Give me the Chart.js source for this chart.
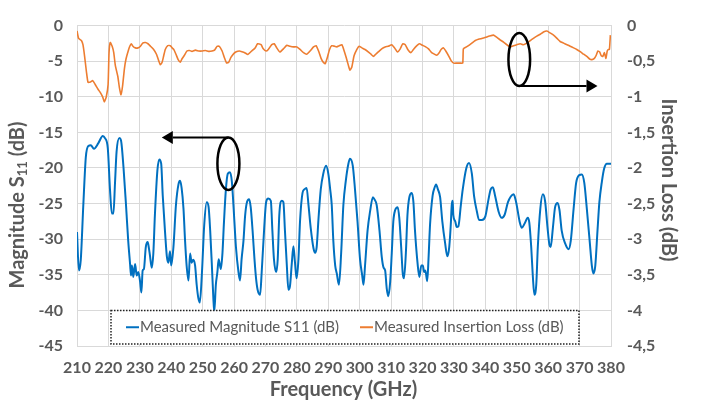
<!DOCTYPE html>
<html>
<head>
<meta charset="utf-8">
<script src="https://cdn.jsdelivr.net/npm/chart.js@4.4.1/dist/chart.umd.min.js"></script>
<style>
  html, body { margin: 0; padding: 0; background: #fff; }
  #wrap { width: 704px; height: 409px; }
</style>
</head>
<body>
<div id="wrap"><canvas id="chart" width="704" height="409"></canvas></div>
<script>
// Measured S11 magnitude (dB) vs frequency (GHz)
const s11Freq = [
  210.0, 210.6, 211.2, 212.0, 212.8, 213.6, 214.4, 215.4, 216.8, 218.2, 218.9, 219.8,
  220.5, 221.1, 221.6, 222.1, 222.6, 223.5, 224.0, 224.8, 225.6, 226.3, 226.9, 227.2,
  227.5, 227.9, 228.5, 229.0, 229.5, 230.1, 230.5, 230.9, 231.3, 231.9, 232.5, 232.9,
  233.2, 233.8, 234.3, 234.8, 235.6, 236.2, 236.8, 237.3, 238.0, 238.6, 239.1, 239.6,
  240.0, 240.7, 241.5, 242.3, 242.8, 243.3, 243.9, 244.4, 244.9, 245.5, 246.0, 246.5,
  247.0, 247.6, 248.1, 248.6, 249.1, 249.8, 250.5, 251.3, 251.9, 252.4, 252.9, 253.4,
  253.7, 254.2, 254.7, 255.1, 255.8, 256.3, 256.8, 257.4, 258.0, 258.7, 259.3, 259.8,
  260.6, 261.4, 261.9, 262.4, 263.0, 263.5, 264.0, 264.8, 265.3, 265.9, 266.5, 267.0,
  267.5, 268.3, 268.8, 269.6, 270.2, 270.9, 271.7, 272.2, 272.7, 273.4, 273.9, 274.4,
  275.2, 275.7, 276.2, 276.8, 277.3, 277.8, 278.4, 278.9, 279.4, 279.9, 280.5, 281.0,
  281.8, 282.4, 283.1, 283.7, 284.4, 285.3, 285.8, 286.3, 286.9, 287.6, 288.4, 289.3,
  290.0, 290.6, 291.1, 291.6, 292.2, 292.7, 293.4, 294.1, 294.8, 295.6, 296.4, 296.9,
  297.8, 298.5, 299.3, 300.1, 300.8, 301.2, 301.7, 302.5, 303.3, 304.2, 304.7, 305.4,
  306.3, 307.0, 307.6, 308.1, 308.6, 309.1, 309.7, 310.2, 310.7, 311.3, 312.1, 312.6,
  313.2, 313.7, 314.1, 314.7, 315.2, 315.8, 316.6, 317.1, 317.6, 318.4, 319.0, 319.6,
  320.1, 320.5, 320.9, 321.5, 321.9, 322.4, 323.2, 323.8, 324.3, 324.9, 325.6, 326.3,
  327.2, 327.9, 328.5, 329.0, 329.3, 329.6, 329.8, 330.4, 330.9, 331.4, 332.2, 332.8,
  333.9, 334.8, 335.7, 336.4, 337.3, 338.0, 338.9, 340.0, 341.0, 341.7, 342.4, 343.1,
  344.2, 345.2, 346.1, 347.2, 348.1, 349.0, 349.8, 350.9, 351.6, 352.5, 353.5, 354.0,
  354.6, 355.1, 355.6, 356.2, 356.7, 357.5, 358.3, 359.0, 359.8, 360.4, 360.8, 361.5,
  362.2, 363.0, 363.6, 364.3, 365.4, 366.5, 367.2, 368.1, 368.9, 369.9, 370.7, 371.5,
  372.3, 373.2, 373.9, 374.4, 375.0, 375.7, 376.3, 377.1, 377.8, 378.7, 379.5, 380.0
];
const s11Mag = [
  -29.0, -34.4, -32.9, -25.3, -18.5, -16.9, -16.8, -17.3, -16.5, -15.5, -15.8, -17.2,
  -23.0, -26.4, -26.4, -22.1, -17.7, -15.8, -16.1, -19.9, -25.2, -30.2, -33.5, -35.1,
  -33.7, -35.3, -33.5, -35.1, -34.6, -36.0, -37.5, -34.4, -34.2, -31.1, -30.4, -31.3,
  -32.2, -34.0, -32.0, -26.6, -20.3, -18.8, -19.4, -23.9, -28.8, -32.4, -33.3, -31.7,
  -33.7, -31.1, -25.2, -22.3, -21.8, -22.8, -25.7, -30.2, -33.7, -35.8, -32.0, -33.3,
  -32.9, -33.7, -36.4, -38.2, -38.9, -34.5, -28.0, -24.8, -25.5, -28.8, -33.3, -38.2,
  -40.2, -36.4, -34.6, -32.8, -34.2, -32.0, -27.5, -23.0, -20.8, -20.6, -21.9, -25.2,
  -31.1, -34.6, -35.8, -32.8, -30.2, -26.8, -25.0, -24.4, -25.5, -28.8, -32.8, -35.5,
  -37.1, -37.8, -34.6, -28.4, -24.8, -24.3, -24.6, -28.8, -32.8, -34.6, -32.8, -26.6,
  -24.6, -24.8, -28.8, -33.7, -37.1, -36.6, -33.3, -31.0, -33.3, -35.5, -32.8, -27.5,
  -23.5, -23.0, -22.8, -25.2, -28.4, -31.3, -31.9, -31.1, -27.0, -23.0, -20.8, -19.7,
  -20.8, -23.0, -25.2, -30.2, -33.7, -34.8, -36.4, -31.9, -25.2, -21.7, -19.4, -18.7,
  -19.7, -23.0, -27.5, -32.8, -35.1, -36.4, -33.7, -28.8, -26.1, -24.1, -24.4, -25.2,
  -28.8, -32.4, -34.0, -34.4, -36.9, -38.0, -36.0, -32.0, -27.5, -25.9, -25.5, -27.0,
  -31.1, -34.8, -35.5, -31.9, -26.6, -24.1, -23.5, -24.8, -28.8, -33.3, -35.3, -33.7,
  -33.7, -34.6, -34.4, -35.9, -32.8, -27.9, -23.9, -22.8, -22.3, -23.0, -24.1, -27.5,
  -30.6, -32.4, -31.1, -27.9, -25.2, -24.6, -26.6, -27.5, -28.3, -28.2, -25.2, -23.0,
  -20.1, -19.3, -20.8, -23.9, -26.1, -27.3, -27.3, -26.8, -24.4, -23.0, -22.7, -23.9,
  -26.1, -27.0, -26.6, -24.8, -24.0, -23.7, -24.8, -27.5, -28.4, -27.8, -27.0, -27.7,
  -31.1, -35.1, -37.8, -36.4, -31.1, -25.7, -23.7, -24.6, -28.4, -30.8, -31.1, -28.4,
  -25.5, -24.9, -25.9, -28.8, -30.6, -31.4, -30.2, -25.7, -22.1, -21.0, -20.9, -22.1,
  -25.7, -30.2, -33.7, -34.8, -33.7, -28.8, -24.8, -21.9, -20.1, -19.4, -19.4, -19.4
];

// Measured insertion loss (dB, right axis) vs frequency (GHz)
const ilFreq = [
  210.0, 210.5, 211.4, 211.9, 212.4, 213.0, 213.5, 214.3, 215.0, 215.8, 216.7, 217.4,
  218.2, 218.7, 219.3, 219.9, 220.2, 220.6, 221.2, 221.7, 222.2, 223.0, 223.5, 224.0,
  224.5, 225.1, 225.6, 226.3, 226.8, 227.3, 227.8, 228.6, 229.4, 230.2, 230.9, 231.8,
  232.6, 233.4, 234.4, 235.3, 236.0, 236.5, 237.1, 237.6, 238.1, 238.9, 239.7, 240.3,
  240.8, 241.5, 242.2, 242.9, 243.4, 244.2, 245.0, 245.8, 246.6, 247.7, 248.8, 249.8,
  250.9, 251.9, 253.0, 253.8, 254.6, 255.3, 256.2, 256.9, 257.6, 258.3, 259.0, 259.9,
  260.7, 261.7, 262.5, 263.4, 264.4, 265.6, 266.7, 267.5, 268.6, 269.3, 270.2, 270.9,
  272.0, 272.8, 273.6, 274.6, 275.7, 276.8, 277.8, 278.9, 280.0, 281.0, 282.1, 283.1,
  284.2, 285.3, 286.1, 286.9, 287.7, 288.4, 289.0, 289.7, 290.4, 291.1, 292.0, 292.7,
  293.5, 294.3, 294.9, 295.7, 296.4, 296.9, 297.5, 298.2, 299.1, 299.8, 300.7, 301.7,
  302.8, 303.6, 304.4, 305.1, 306.0, 307.0, 308.1, 309.1, 310.2, 311.1, 312.0, 312.9,
  313.7, 314.5, 315.3, 316.3, 317.1, 318.2, 319.0, 320.0, 321.0, 321.9, 322.9, 323.8,
  324.5, 325.3, 325.9, 326.7, 327.4, 328.3, 329.1, 329.9, 330.9, 332.0, 332.8, 333.0,
  333.8, 334.6, 335.7, 336.8, 337.8, 339.1, 340.1, 341.3, 342.6, 343.7, 344.7, 345.8,
  346.8, 347.9, 349.0, 350.0, 351.1, 352.1, 353.2, 354.3, 355.3, 356.4, 357.5, 358.5,
  359.6, 360.6, 361.7, 362.8, 363.8, 364.9, 366.0, 367.0, 368.1, 369.1, 370.2, 371.3,
  372.3, 373.2, 373.9, 374.7, 375.3, 375.8, 376.4, 376.9, 377.4, 377.9, 378.4, 378.8,
  379.2, 379.5, 379.8
];
const ilLoss = [
  -0.076, -0.179, -0.210, -0.268, -0.424, -0.648, -0.795, -0.791, -0.773, -0.827, -0.894, -0.938,
  -1.005, -1.072, -1.005, -0.827, -0.380, -0.237, -0.290, -0.380, -0.559, -0.715, -0.871, -0.970,
  -0.849, -0.603, -0.469, -0.357, -0.290, -0.255, -0.290, -0.313, -0.313, -0.290, -0.246, -0.237,
  -0.255, -0.290, -0.335, -0.402, -0.492, -0.550, -0.514, -0.424, -0.335, -0.282, -0.282, -0.313,
  -0.335, -0.402, -0.478, -0.514, -0.469, -0.416, -0.357, -0.349, -0.362, -0.344, -0.357, -0.357,
  -0.349, -0.362, -0.357, -0.344, -0.290, -0.290, -0.357, -0.447, -0.523, -0.514, -0.447, -0.393,
  -0.366, -0.357, -0.366, -0.380, -0.405, -0.357, -0.313, -0.255, -0.268, -0.326, -0.357, -0.335,
  -0.268, -0.255, -0.313, -0.371, -0.326, -0.277, -0.290, -0.299, -0.299, -0.335, -0.380, -0.402,
  -0.357, -0.299, -0.282, -0.357, -0.460, -0.514, -0.536, -0.447, -0.335, -0.282, -0.290, -0.299,
  -0.282, -0.268, -0.335, -0.447, -0.559, -0.626, -0.581, -0.424, -0.335, -0.290, -0.313, -0.335,
  -0.371, -0.402, -0.433, -0.402, -0.366, -0.326, -0.299, -0.290, -0.268, -0.313, -0.371, -0.326,
  -0.255, -0.268, -0.335, -0.380, -0.335, -0.282, -0.255, -0.277, -0.299, -0.326, -0.380, -0.402,
  -0.416, -0.380, -0.335, -0.313, -0.357, -0.424, -0.492, -0.527, -0.527, -0.527, -0.527, -0.326,
  -0.304, -0.282, -0.246, -0.210, -0.192, -0.179, -0.165, -0.147, -0.134, -0.165, -0.201, -0.232,
  -0.268, -0.299, -0.282, -0.268, -0.255, -0.268, -0.246, -0.210, -0.179, -0.147, -0.121, -0.089,
  -0.076, -0.103, -0.134, -0.179, -0.223, -0.246, -0.268, -0.290, -0.313, -0.335, -0.366, -0.402,
  -0.433, -0.469, -0.478, -0.460, -0.416, -0.357, -0.371, -0.424, -0.433, -0.380, -0.460, -0.357,
  -0.335, -0.335, -0.134
];

// Axis ticks
const freqTicks = [210, 220, 230, 240, 250, 260, 270, 280, 290, 300, 310, 320, 330, 340, 350, 360, 370, 380];
const magTicks = [0, -5, -10, -15, -20, -25, -30, -35, -40, -45];
const lossTicks = [0, -0.5, -1, -1.5, -2, -2.5, -3, -3.5, -4, -4.5];

const seriesLabels = ['Measured Magnitude S11 (dB)', 'Measured Insertion Loss (dB)'];
const seriesColors = ['#0070C0', '#ED7D31'];

const labelGray = '#595959';
const gridGray = '#d9d9d9';
const fontFamily = 'Lato, "Open Sans", sans-serif';

// Annotation marks (in data units, left axis) - ellipses with arrows pointing to the axis used
const callouts = [
  { cx: 258.2, cy: -19.4, rx: 3.5, ry: 3.7, from: 'top', toX: 237.0 },
  { cx: 350.8, cy: -4.76, rx: 3.45, ry: 3.73, from: 'bottom', toX: 375.7 }
];

const decorPlugin = {
    id: 'decor',
    afterDatasetsDraw(chart) {
        const ctx = chart.ctx;
        const xs = chart.scales.x;
        const ys = chart.scales.y;
        const ca = chart.chartArea;

        // Callout ellipses and arrows
        ctx.save();
        ctx.strokeStyle = '#000';
        ctx.fillStyle = '#000';
        callouts.forEach((c) => {
            const cx = xs.getPixelForValue(c.cx);
            const cy = ys.getPixelForValue(c.cy);
            const rx = Math.abs(xs.getPixelForValue(c.cx + c.rx) - cx);
            const ry = Math.abs(ys.getPixelForValue(c.cy - c.ry) - cy);
            ctx.lineWidth = 2.5;
            ctx.beginPath();
            ctx.ellipse(cx, cy, rx, ry, 0, 0, Math.PI * 2);
            ctx.stroke();

            const ay = c.from === 'top' ? cy - ry : cy + ry;
            const tip = xs.getPixelForValue(c.toX);
            const dir = tip < cx ? -1 : 1;
            const headLen = 11;
            ctx.lineWidth = 2;
            ctx.beginPath();
            ctx.moveTo(cx, ay);
            ctx.lineTo(tip - dir * headLen, ay);
            ctx.stroke();
            ctx.beginPath();
            ctx.moveTo(tip, ay);
            ctx.lineTo(tip - dir * headLen, ay - 6.5);
            ctx.lineTo(tip - dir * headLen, ay + 6.5);
            ctx.closePath();
            ctx.fill();
        });
        ctx.restore();

        // Legend box inside the plot area
        const lx = ca.left + 34, ly = ca.bottom - 35.5, lw = 468, lh = 33.5;
        ctx.save();
        ctx.fillStyle = '#fff';
        ctx.fillRect(lx, ly, lw, lh);
        ctx.setLineDash([1.5, 1.5]);
        ctx.lineWidth = 1.5;
        ctx.strokeStyle = '#222';
        ctx.strokeRect(lx, ly, lw, lh);
        ctx.setLineDash([]);
        ctx.font = '15px ' + fontFamily;
        ctx.textBaseline = 'middle';
        ctx.fillStyle = labelGray;
        const midY = ly + lh / 2;
        const entryX = [lx + 15, lx + 249];
        seriesLabels.forEach((label, i) => {
            ctx.strokeStyle = seriesColors[i];
            ctx.lineWidth = 2;
            ctx.beginPath();
            ctx.moveTo(entryX[i], midY);
            ctx.lineTo(entryX[i] + 13, midY);
            ctx.stroke();
            ctx.fillText(label, entryX[i] + 14, midY);
        });
        ctx.restore();
    },
    afterDraw(chart) {
        const ctx = chart.ctx;
        const ca = chart.chartArea;
        ctx.save();
        ctx.fillStyle = labelGray;
        ctx.textBaseline = 'middle';

        // Bottom title
        const big = 'bold 20px ' + fontFamily;
        const small = 'bold 13px ' + fontFamily;
        ctx.font = big;
        ctx.textAlign = 'center';
        ctx.fillText('Frequency (GHz)', (ca.left + ca.right) / 2 - 0.5, 390);

        // Left title with subscript
        ctx.font = big;
        const w1 = ctx.measureText('Magnitude S').width;
        const w3 = ctx.measureText(' (dB)').width;
        ctx.font = small;
        const w2 = ctx.measureText('11').width;
        const total = w1 + w2 + w3;
        ctx.save();
        ctx.translate(18, 205);
        ctx.rotate(-Math.PI / 2);
        ctx.textAlign = 'left';
        ctx.font = big;
        ctx.fillText('Magnitude S', -total / 2, 0);
        ctx.font = small;
        ctx.fillText('11', -total / 2 + w1, 5);
        ctx.font = big;
        ctx.fillText(' (dB)', -total / 2 + w1 + w2, 0);
        ctx.restore();

        // Right title
        ctx.save();
        ctx.translate(668, 180);
        ctx.rotate(Math.PI / 2);
        ctx.textAlign = 'center';
        ctx.font = big;
        ctx.fillText('Insertion Loss (dB)', 0, 0);
        ctx.restore();

        ctx.restore();
    }
};

const tickFont = { family: fontFamily, size: 16, weight: 'bold' };

new Chart(document.getElementById('chart'), {
    type: 'line',
    data: {
        datasets: [{
            label: seriesLabels[0],
            data: s11Freq.map((f, i) => ({ x: f, y: s11Mag[i] })),
            borderColor: seriesColors[0],
            borderWidth: 2,
            pointRadius: 0,
            cubicInterpolationMode: 'monotone',
            yAxisID: 'y'
        }, {
            label: seriesLabels[1],
            data: ilFreq.map((f, i) => ({ x: f, y: ilLoss[i] })),
            borderColor: seriesColors[1],
            borderWidth: 1.6,
            pointRadius: 0,
            tension: 0.15,
            yAxisID: 'y2'
        }]
    },
    options: {
        responsive: false,
        animation: false,
        devicePixelRatio: 1,
        layout: { padding: { top: 10, left: 0, right: 0, bottom: 0 } },
        plugins: {
            legend: { display: false },
            tooltip: { enabled: false }
        },
        scales: {
            x: {
                type: 'linear',
                min: 210,
                max: 380,
                afterBuildTicks: (s) => { s.ticks = freqTicks.map((v) => ({ value: v })); },
                afterFit: (s) => { s.height = 63; },
                grid: { color: gridGray, drawTicks: false },
                border: { color: gridGray },
                ticks: { color: labelGray, font: tickFont, padding: 12, maxRotation: 0, autoSkip: false }
            },
            y: {
                position: 'left',
                min: -45,
                max: 0,
                afterBuildTicks: (s) => { s.ticks = magTicks.map((v) => ({ value: v })); },
                afterFit: (s) => { s.width = 77; },
                grid: { color: gridGray, drawTicks: false },
                border: { color: gridGray },
                ticks: { color: labelGray, font: tickFont, padding: 14 }
            },
            y2: {
                position: 'right',
                min: -4.5,
                max: 0,
                afterBuildTicks: (s) => { s.ticks = lossTicks.map((v) => ({ value: v })); },
                afterFit: (s) => { s.width = 93; },
                grid: { display: false, drawTicks: false },
                border: { color: gridGray },
                ticks: {
                    color: labelGray, font: tickFont, padding: 16,
                    callback: (v) => String(v).replace('.', ',')
                }
            }
        }
    },
    plugins: [decorPlugin]
});
</script>
</body>
</html>
